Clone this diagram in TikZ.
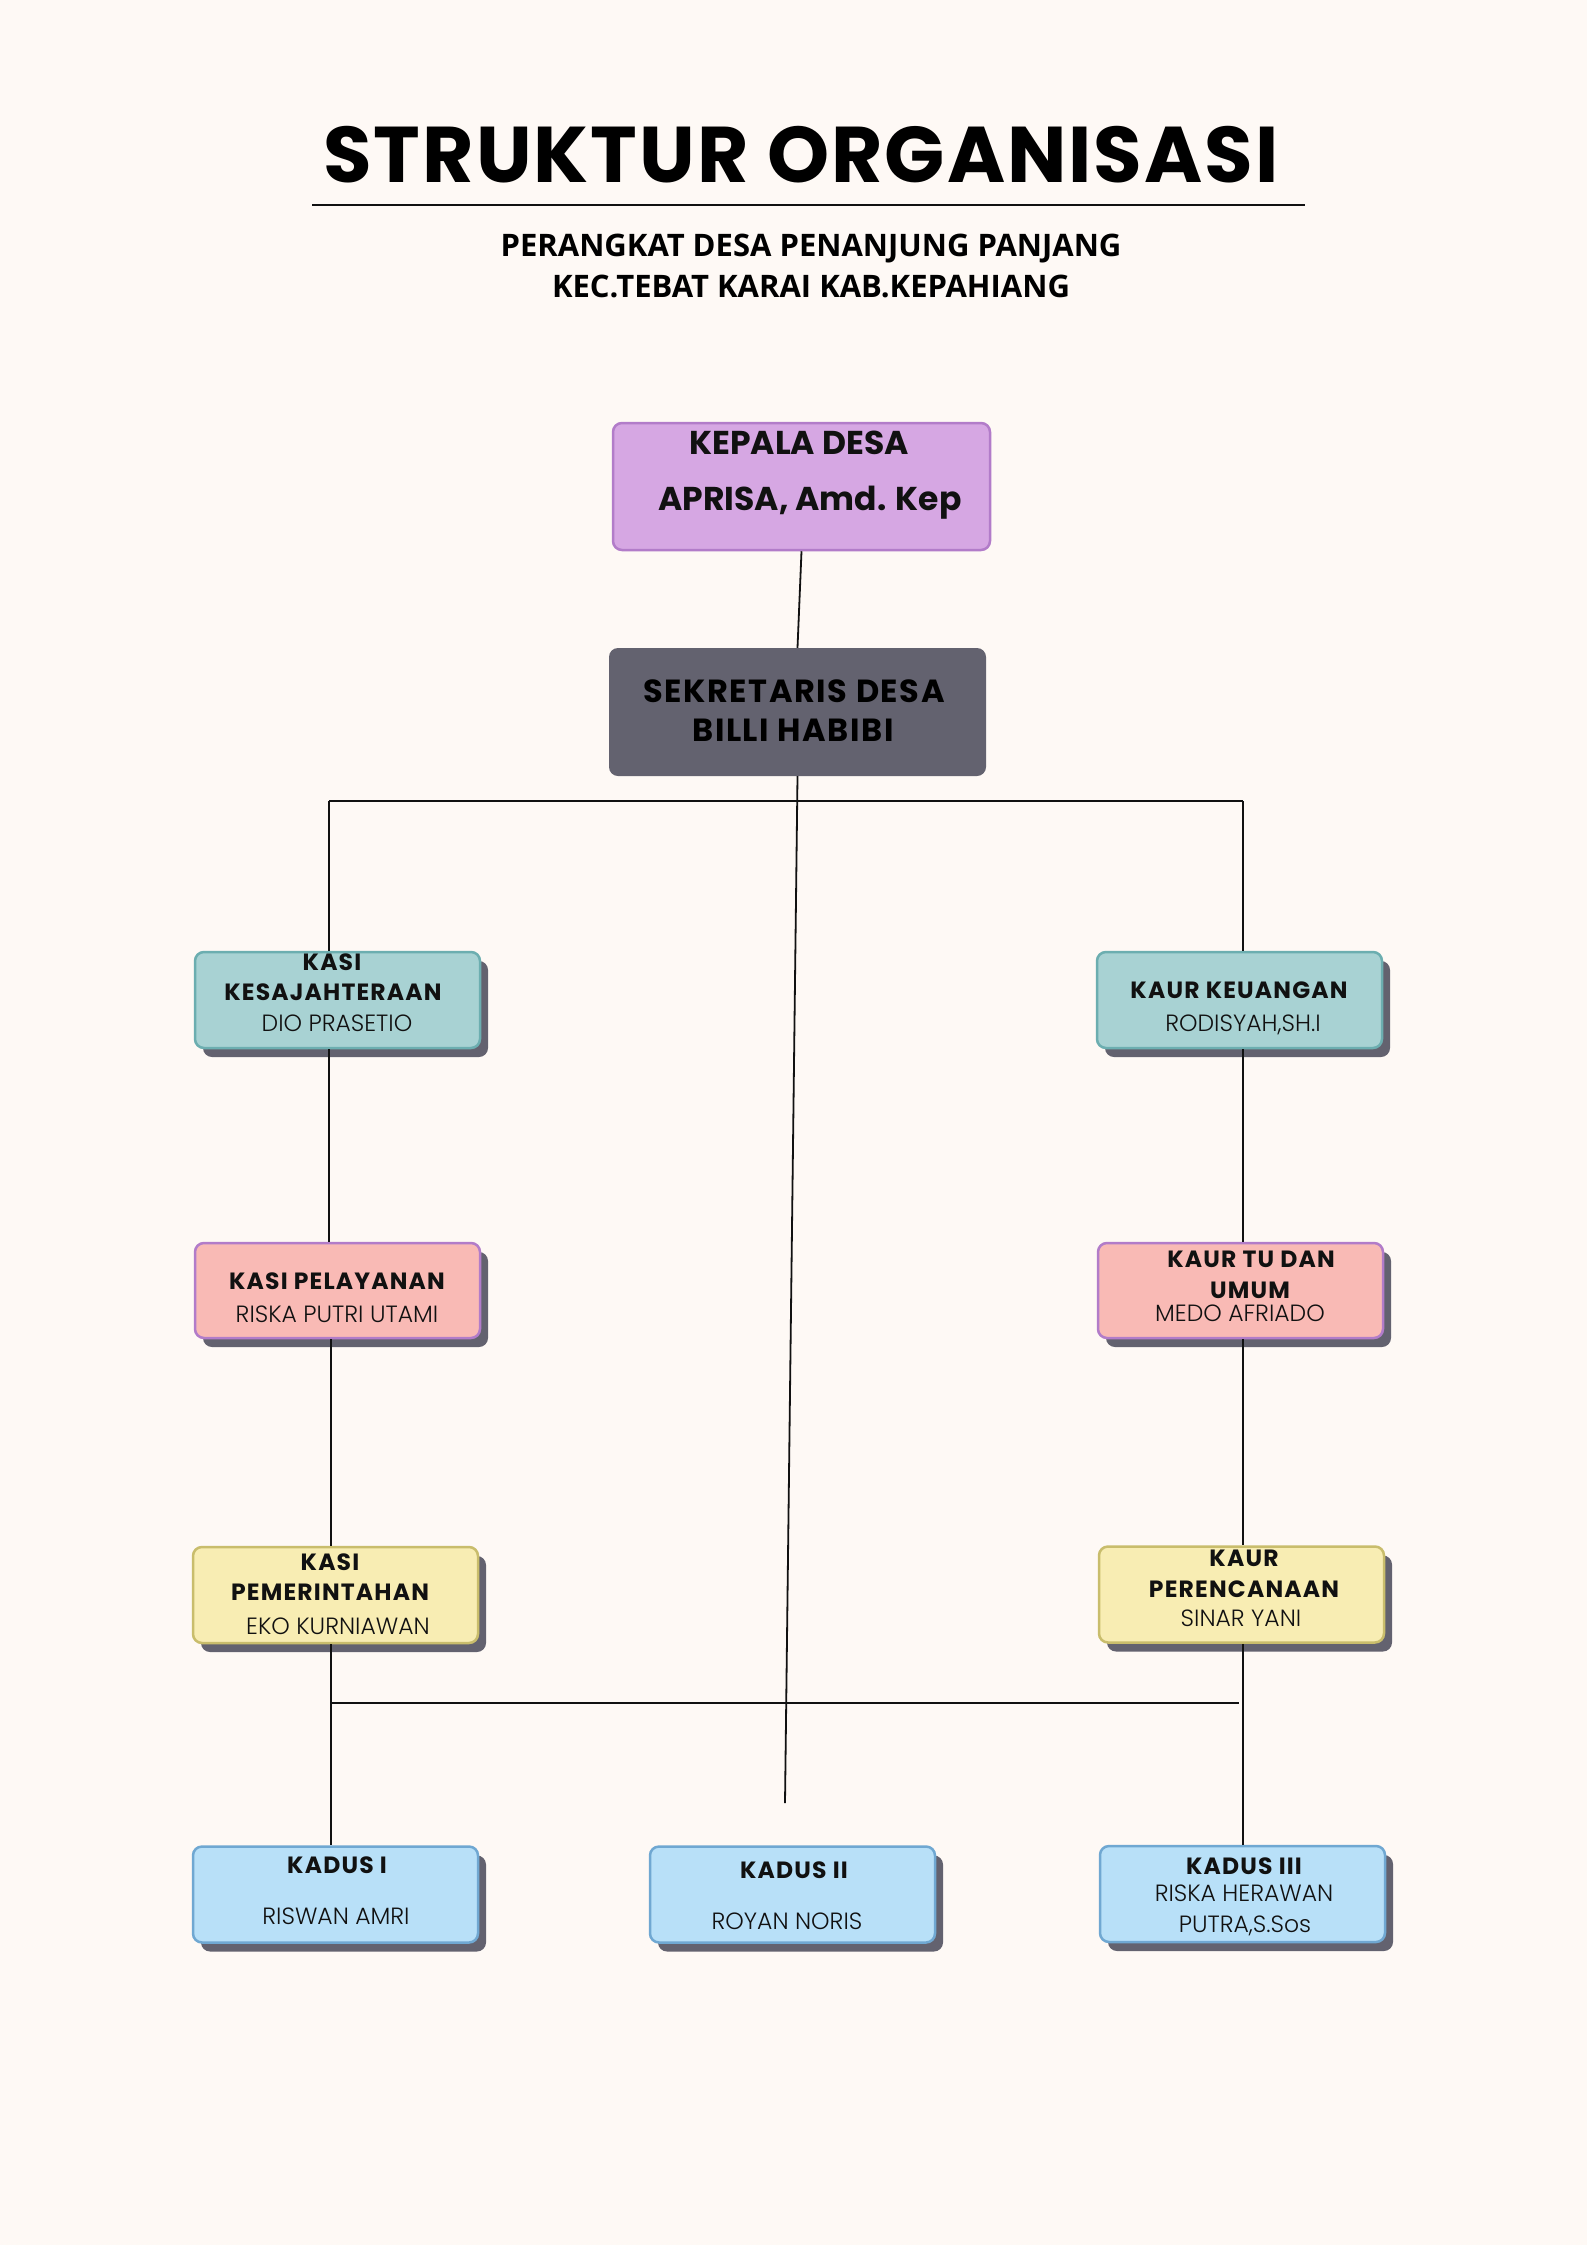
\documentclass[tikz,border=0pt]{standalone}
\usepackage{fontspec}
\setmainfont{Poppins}
\newfontfamily\orgsub{Open Sans}
\newfontfamily\orgname{Poppins Light}
\newfontfamily\orgspaced[LetterSpace=5]{Poppins}
\newfontfamily\orgtitle[LetterSpace=2.5]{Poppins}
\usetikzlibrary{calc,shadows}
\definecolor{OrgPaper}{HTML}{FEF9F5}
\definecolor{OrgInk}{HTML}{111111}
\definecolor{OrgShadow}{HTML}{63626F}
\definecolor{OrgLilac}{HTML}{D6A7E3}
\definecolor{OrgLilacLine}{HTML}{B27CC9}
\definecolor{OrgTeal}{HTML}{A8D2D3}
\definecolor{OrgTealLine}{HTML}{6CAEB0}
\definecolor{OrgPink}{HTML}{F9BAB5}
\definecolor{OrgYellow}{HTML}{F8EDB3}
\definecolor{OrgYellowLine}{HTML}{C9BD6C}
\definecolor{OrgBlue}{HTML}{B8E0F8}
\definecolor{OrgBlueLine}{HTML}{70A8D2}
\tikzset{
  org/box/.style={
    draw, line width=2.5pt, rounded corners=9pt,
    minimum width=285pt, minimum height=96pt, inner sep=0pt,
    drop shadow={shadow xshift=8pt, shadow yshift=-9pt, fill=OrgShadow, opacity=1}
  },
  org/teal/.style={org/box, fill=OrgTeal, draw=OrgTealLine},
  org/pink/.style={org/box, fill=OrgPink, draw=OrgLilacLine},
  org/yellow/.style={org/box, fill=OrgYellow, draw=OrgYellowLine},
  org/blue/.style={org/box, fill=OrgBlue, draw=OrgBlueLine},
  org/head/.style={font={\orgspaced\bfseries\fontsize{23.5}{26}\selectfont},
    text height=15.5pt, text depth=0pt, inner sep=0pt, text=OrgInk},
  org/name/.style={font={\orgname\fontsize{23.5}{26}\selectfont},
    text height=16.5pt, text depth=0pt, inner sep=0pt, text=OrgInk},
  org/big/.style={font={\bfseries\fontsize{33}{36}\selectfont},
    text height=23pt, text depth=0pt, inner sep=0pt, text=OrgInk},
  org/bigwide/.style={org/big, font={\orgspaced\bfseries\fontsize{32}{36}\selectfont},
    text height=22pt, text=black},
  org/link/.style={draw=OrgInk, line width=1.8pt}
}

\begin{document}
\begin{tikzpicture}[x=1pt,y=-1pt]
  \fill[OrgPaper] (0,0) rectangle (1587,2245);
  \useasboundingbox (0,0) rectangle (1587,2245);
  % heading
  \node[font={\orgtitle\bfseries\fontsize{79}{80}\selectfont}, text height=55pt, text depth=0pt, inner sep=0pt]
    (title) at (801,155) {STRUKTUR ORGANISASI};
  \coordinate (ruleL) at (312,205);
  \coordinate (ruleR) at (1305,205);
  \draw[OrgInk, line width=2.5pt] (ruleL) -- (ruleR);
  \node[font={\orgsub\bfseries\fontsize{31}{34}\selectfont}, text height=22pt, text depth=0pt, inner sep=0pt]
    (sub1) at (811,245) {PERANGKAT DESA PENANJUNG PANJANG};
  \node[font={\orgsub\bfseries\fontsize{31}{34}\selectfont}, text height=22pt, text depth=0pt, inner sep=0pt]
    (sub2) at (811,286) {KEC.TEBAT KARAI KAB.KEPAHIANG};

  % top two
  \node[draw=OrgLilacLine, fill=OrgLilac, line width=2.5pt, rounded corners=9pt,
    minimum width=377pt, minimum height=127pt, inner sep=0pt] (kepala) at (801.5,486.5) {};
  \node[org/big] (kepalaT) at (799,443) {KEPALA DESA};
  \node[org/big] (kepalaN) at (810,499) {APRISA, Amd. Kep};
  \node[fill=OrgShadow, rounded corners=9pt,
    minimum width=377pt, minimum height=128pt, inner sep=0pt] (sekdes) at (797.5,712) {};
  \node[org/bigwide] (sekdesT) at (794,691) {SEKRETARIS DESA};
  \node[org/bigwide] (sekdesN) at (793,730) {BILLI HABIBI};

  % left column
  \node[org/teal] (kasiA) at (337.5,1000) {};
  \node[org/head] (kasiAt1) at (332,963) {KASI};
  \node[org/head] (kasiAt2) at (333,993) {KESAJAHTERAAN};
  \node[org/name] (kasiAn) at (337,1023) {DIO PRASETIO};
  \node[org/pink, minimum height=95pt] (kasiB) at (337.5,1290.5) {};
  \node[org/head] (kasiBt) at (337,1282) {KASI PELAYANAN};
  \node[org/name] (kasiBn) at (337,1314) {RISKA PUTRI UTAMI};
  \node[org/yellow] (kasiC) at (335.5,1595) {};
  \node[org/head] (kasiCt1) at (330,1563) {KASI};
  \node[org/head] (kasiCt2) at (330,1593) {PEMERINTAHAN};
  \node[org/name] (kasiCn) at (338,1626) {EKO KURNIAWAN};

  % right column
  \node[org/teal] (kaurA) at (1239.5,1000) {};
  \node[org/head] (kaurAt) at (1239,991) {KAUR KEUANGAN};
  \node[org/name] (kaurAn) at (1243,1023) {RODISYAH,SH.I};
  \node[org/pink, minimum height=95pt] (kaurB) at (1240.5,1290.5) {};
  \node[org/head] (kaurBt1) at (1251,1260) {KAUR TU DAN};
  \node[org/head] (kaurBt2) at (1250,1291) {UMUM};
  \node[org/name] (kaurBn) at (1240,1313) {MEDO AFRIADO};
  \node[org/yellow] (kaurC) at (1241.5,1594.5) {};
  \node[org/head] (kaurCt1) at (1244,1559) {KAUR};
  \node[org/head] (kaurCt2) at (1244,1590) {PERENCANAAN};
  \node[org/name] (kaurCn) at (1241,1618) {SINAR YANI};

  % kadus row
  \node[org/blue] (kadusA) at (335.5,1894.5) {};
  \node[org/head] (kadusAt) at (337,1866) {KADUS I};
  \node[org/name] (kadusAn) at (336,1916) {RISWAN AMRI};
  \node[org/blue] (kadusB) at (792.5,1894.5) {};
  \node[org/head] (kadusBt) at (794,1871) {KADUS II};
  \node[org/name] (kadusBn) at (787,1921) {ROYAN NORIS};
  \node[org/blue] (kadusC) at (1242.5,1894) {};
  \node[org/head] (kadusCt) at (1244,1867) {KADUS III};
  \node[org/name] (kadusCn1) at (1244,1893) {RISKA HERAWAN};
  \node[org/name] (kadusCn2) at (1245,1924) {PUTRA,S.Sos};

  % connectors
  \coordinate (barL) at (329,801);
  \coordinate (barR) at (1243,801);
  \coordinate (lowL) at (331,1703);
  \coordinate (lowR) at (1239,1703);
  \coordinate (midTip) at (785,1803);
  \draw[org/link] (kepala.south) -- (sekdes.north);
  \draw[org/link] (sekdes.south) -- (midTip);
  \draw[org/link] (barL) -- (barR);
  \draw[org/link] (barL) -- (kasiA.north -| barL);
  \draw[org/link] (barR) -- (kaurA.north -| barR);
  \draw[org/link] (kasiA.south -| barL) -- (kasiB.north -| barL);
  \draw[org/link] (kasiB.south -| lowL) -- (kasiC.north -| lowL);
  \draw[org/link] (kasiC.south -| lowL) -- (kadusA.north -| lowL);
  \draw[org/link] (kaurA.south -| barR) -- (kaurB.north -| barR);
  \draw[org/link] (kaurB.south -| barR) -- (kaurC.north -| barR);
  \draw[org/link] (kaurC.south -| barR) -- (kadusC.north -| barR);
  \draw[org/link] (lowL) -- (lowR);
\end{tikzpicture}
\end{document}
